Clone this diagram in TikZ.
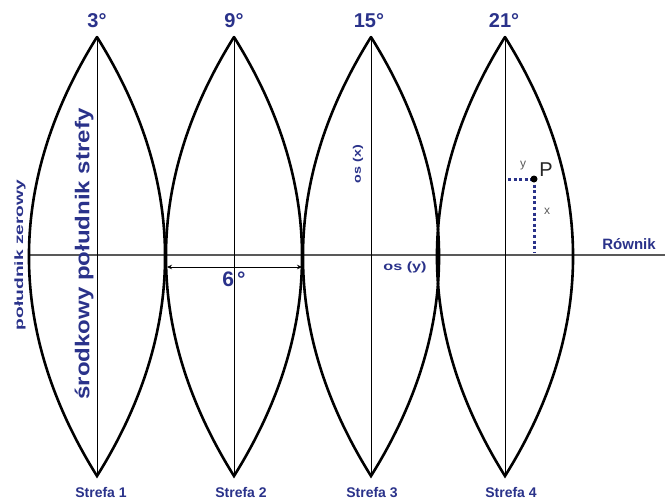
\documentclass[tikz,border=0pt]{standalone}
\usepackage{fontspec}
\setmainfont{Liberation Sans}
\usetikzlibrary{arrows.meta}
\definecolor{strefablue}{RGB}{42,50,138}

\begin{document}
\begin{tikzpicture}[x=1pt,y=-1pt,>={Stealth[length=5pt,width=4.5pt]},line cap=round,
  lens/.style={line width=2.6pt,bend left=32},
  merid/.style={line width=0.9pt},
  lbl/.style={text=strefablue,inner sep=0pt},
  pdot/.style={draw=strefablue,line width=3pt,line cap=butt,dash pattern=on 3pt off 2.6pt}]
\useasboundingbox (0,0) rectangle (665,499);
% tips of the zones
\coordinate (t1) at (97,37);
\coordinate (b1) at (97,476);
\coordinate (t2) at (234,37);
\coordinate (b2) at (234,476);
\coordinate (t3) at (371,37);
\coordinate (b3) at (371,476);
\coordinate (t4) at (505,37);
\coordinate (b4) at (505,476);
% equator
\coordinate (eqw) at (30,255);
\coordinate (eqe) at (665,255);
\draw[black!65,line width=1.8pt] (eqw) -- (eqe);
% meridians
\draw[merid] (t1) -- (b1);
\draw[merid] (t2) -- (b2);
\draw[merid] (t3) -- (b3);
\draw[merid] (t4) -- (b4);
% zones
\draw[lens] (t1) to (b1) to (t1);
\draw[lens] (t2) to (b2) to (t2);
\draw[lens] (t3) to (b3) to (t3);
\draw[lens] (t4) to (b4) to (t4);
% top labels
\node[lbl,font=\fontsize{20pt}{22pt}\selectfont\bfseries] (deg3) at (97,21) {3°};
\node[lbl,font=\fontsize{20pt}{22pt}\selectfont\bfseries] (deg9) at (234,21) {9°};
\node[lbl,font=\fontsize{20pt}{22pt}\selectfont\bfseries] (deg15) at (369,21) {15°};
\node[lbl,font=\fontsize{20pt}{22pt}\selectfont\bfseries] (deg21) at (504,21) {21°};
% bottom labels
\node[lbl,font=\fontsize{14pt}{16pt}\selectfont\bfseries] (strefa1) at (101,492) {Strefa 1};
\node[lbl,font=\fontsize{14pt}{16pt}\selectfont\bfseries] (strefa2) at (241,492) {Strefa 2};
\node[lbl,font=\fontsize{14pt}{16pt}\selectfont\bfseries] (strefa3) at (372,492) {Strefa 3};
\node[lbl,font=\fontsize{14pt}{16pt}\selectfont\bfseries] (strefa4) at (511,492) {Strefa 4};
% meridian names
\node[lbl,rotate=90,font=\fontsize{20pt}{22pt}\selectfont\bfseries] (srodkowy) at (84,254) {\scalebox{1.2}[1]{środkowy południk strefy}};
\node[lbl,rotate=90,font=\fontsize{12pt}{14pt}\selectfont\bfseries] (zerowy) at (20,255) {\scalebox{1.6}[1]{południk zerowy}};
\node[lbl,font=\fontsize{15pt}{17pt}\selectfont\bfseries] (rownik) at (629,244) {Równik};
% axes
\node[lbl,rotate=90,font=\fontsize{11pt}{13pt}\selectfont\bfseries] (osx) at (358,164) {\scalebox{1.3}[1]{os (x)}};
\node[lbl,font=\fontsize{12pt}{14pt}\selectfont\bfseries] (osy) at (405,267) {\scalebox{1.35}[1]{os (y)}};
% zone width
\coordinate (wl) at (167,267);
\coordinate (wr) at (302,267);
\draw[<->,line width=0.8pt] (wl) -- (wr);
\node[lbl,font=\fontsize{21pt}{23pt}\selectfont\bfseries] (deg6) at (234,279) {6\kern3pt°};
% point P
\coordinate (pp) at (534,179);
\coordinate (py) at (508,179);
\coordinate (px) at (534,252);
\path[pdot] (py) -- (pp);
\path[pdot] (pp) -- (px);
\node[circle,fill=black,inner sep=0pt,minimum size=7pt] (P) at (pp) {};
\node[inner sep=0pt,text=black!85,font=\fontsize{20pt}{22pt}\selectfont] (lblP) at (546,170) {P};
\node[inner sep=0pt,text=black!65,font=\fontsize{12pt}{14pt}\selectfont] (lbly) at (523,166) {y};
\node[inner sep=0pt,text=black!65,font=\fontsize{12pt}{14pt}\selectfont] (lblx) at (547,211) {x};
\end{tikzpicture}
\end{document}
